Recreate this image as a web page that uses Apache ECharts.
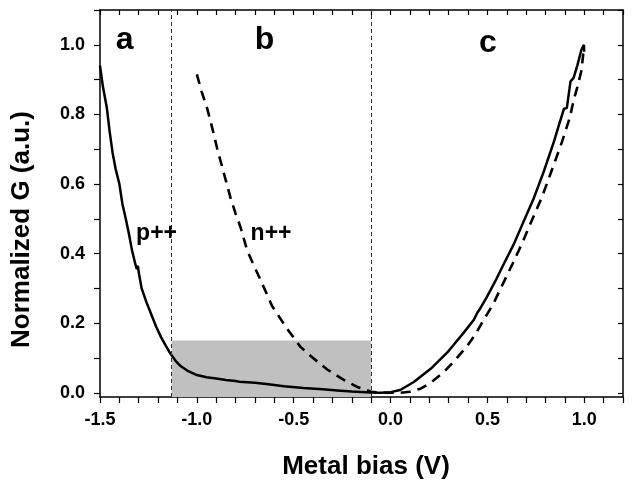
<!DOCTYPE html>
<html>
<head>
<meta charset="utf-8">
<script src="https://cdn.jsdelivr.net/npm/echarts@6/dist/echarts.min.js"></script>
<style>html,body{margin:0;padding:0;background:#fff;}#c{width:633px;height:485px;}</style>
</head>
<body>
<div id="c"></div>
<script>
// p++ (solid) curve
const solidX = [-1.5,-1.485,-1.465,-1.45,-1.435,-1.42,-1.4,-1.385,-1.365,-1.35,-1.335,-1.32,-1.31,-1.305,-1.298,-1.285,-1.26,-1.235,-1.21,-1.185,-1.16,-1.136,-1.11,-1.084,-1.05,-1.0,-0.95,-0.9,-0.85,-0.8,-0.79,-0.78,-0.7,-0.62,-0.55,-0.45,-0.35,-0.275,-0.2,-0.1,-0.05,0.0,0.05,0.12,0.207,0.293,0.378,0.43,0.448,0.46,0.499,0.54,0.585,0.637,0.688,0.74,0.791,0.843,0.875,0.895,0.91,0.929,0.945,0.964,0.985,0.998,1.0];
const solidY = [0.94,0.88,0.82,0.75,0.69,0.645,0.6,0.545,0.495,0.455,0.41,0.375,0.355,0.365,0.34,0.3,0.26,0.225,0.19,0.16,0.135,0.112,0.092,0.077,0.064,0.051,0.045,0.041,0.037,0.034,0.037,0.032,0.029,0.024,0.019,0.014,0.01,0.007,0.004,0.001,0.0,0.002,0.008,0.031,0.069,0.116,0.173,0.21,0.23,0.24,0.277,0.32,0.371,0.428,0.494,0.56,0.636,0.721,0.78,0.816,0.818,0.895,0.905,0.94,0.985,1.0,0.98];
// n++ (dashed) curve
const dashX = [-1.0,-0.975,-0.946,-0.92,-0.895,-0.86,-0.826,-0.8,-0.774,-0.74,-0.705,-0.671,-0.611,-0.533,-0.465,-0.4,-0.327,-0.25,-0.172,-0.1,-0.05,0.0,0.05,0.1,0.155,0.21,0.275,0.33,0.396,0.44,0.482,0.53,0.565,0.63,0.678,0.728,0.78,0.83,0.885,0.925,0.945,0.965,0.985,0.995];
const dashY = [0.915,0.865,0.816,0.76,0.702,0.63,0.56,0.515,0.475,0.409,0.365,0.324,0.249,0.183,0.132,0.1,0.067,0.04,0.017,0.003,0.0,0.0,0.0,0.003,0.012,0.03,0.06,0.092,0.135,0.17,0.211,0.255,0.296,0.371,0.428,0.494,0.56,0.636,0.721,0.79,0.84,0.88,0.925,0.975];
// region boundaries and shaded box
const regionBounds = [-1.13, -0.1];
const shadeTop = 0.15;
// annotations
const annotText = ['a','b','c','p++','n++'];
const annotX = [-1.373,-0.65,0.503,-1.208,-0.617];
const annotY = [1.013,1.013,1.006,0.456,0.456];
const annotSize = [32,32,32,23,23];
// axes
const xMin = -1.5, xMax = 1.2, yMin = -0.012, yMax = 1.1;
const xTicks = [-1.5,-1.4,-1.3,-1.2,-1.1,-1.0,-0.9,-0.8,-0.7,-0.6,-0.5,-0.4,-0.3,-0.2,-0.1,0,0.1,0.2,0.3,0.4,0.5,0.6,0.7,0.8,0.9,1.0,1.1,1.2];
const xLabels = [-1.5,-1.0,-0.5,0.0,0.5,1.0];
const yTicks = [0,0.1,0.2,0.3,0.4,0.5,0.6,0.7,0.8,0.9,1.0,1.1];
const yLabels = [0,0.2,0.4,0.6,0.8,1.0];

const FONT = '"Liberation Sans", Arial, sans-serif';
const chart = echarts.init(document.getElementById('c'), null, {renderer:'canvas'});
const axLine = {show:true, onZero:false, lineStyle:{color:'#000', width:1.5}};
function mkX(pos, main){
  return {
    type:'value', position:pos, min:xMin, max:xMax,
    axisLine:axLine, splitLine:{show:false},
    axisTick:{show:true, inside:!main, length: main?6:5, customValues:xTicks, lineStyle:{color:'#000', width:1.2}},
    axisLabel:{show:main, customValues:xLabels, formatter:v=>v.toFixed(1), margin:14, color:'#000', fontFamily:FONT, fontWeight:'bold', fontSize:18},
    name: main?'Metal bias (V)':'', nameLocation:'middle', nameGap:57,
    nameTextStyle:{color:'#000', fontFamily:FONT, fontWeight:'bold', fontSize:26, padding:[0,0,0,9]}
  };
}
function mkY(pos, main){
  return {
    type:'value', position:pos, min:yMin, max:yMax,
    axisLine:axLine, splitLine:{show:false},
    axisTick:{show:true, inside:!main, length: main?6:5, customValues:yTicks, lineStyle:{color:'#000', width:1.2}},
    axisLabel:{show:main, customValues:yLabels, formatter:v=>v.toFixed(1), margin:15, color:'#000', fontFamily:FONT, fontWeight:'bold', fontSize:18},
    name: main?'Normalized G (a.u.)':'', nameLocation:'middle', nameGap:65,
    nameTextStyle:{color:'#000', fontFamily:FONT, fontWeight:'bold', fontSize:26, padding:[0,52,0,0]}
  };
}
const zip = (a,b)=>a.map((v,i)=>[v,b[i]]);
chart.setOption({
  animation:false,
  backgroundColor:'#fff',
  grid:{left:100, right:10, top:10, bottom:83.5},
  xAxis:[mkX('bottom',true), mkX('top',false)],
  yAxis:[mkY('left',true), mkY('right',false)],
  series:[
    {type:'line', data:[], z:1, silent:true,
     markArea:{silent:true, itemStyle:{color:'#c0c0c0'},
       data:[[{xAxis:regionBounds[0], yAxis:yMin},{xAxis:regionBounds[1], yAxis:shadeTop}]]}},
    {type:'line', data:[], z:2, silent:true,
     markLine:{silent:true, symbol:['none','none'], label:{show:false},
       lineStyle:{color:'#333', width:1, type:[4,3]},
       data:regionBounds.map(v=>({xAxis:v}))}},
    {type:'line', name:'p++', data:zip(solidX,solidY), showSymbol:false, symbol:'none', z:4,
     lineStyle:{color:'#000', width:2.5}},
    {type:'line', name:'n++', data:zip(dashX,dashY), showSymbol:false, symbol:'none', z:4,
     lineStyle:{color:'#000', width:2.6, type:[10,7]}},
    {type:'scatter', symbolSize:0, z:5, silent:true, itemStyle:{opacity:1},
     data:annotText.map((t,i)=>({value:[annotX[i],annotY[i]], name:t,
       label:{show:true, position:'inside', formatter:t, color:'#000', opacity:1, fontFamily:FONT, fontWeight:'bold', fontSize:annotSize[i]}}))}
  ]
});
</script>
</body>
</html>
